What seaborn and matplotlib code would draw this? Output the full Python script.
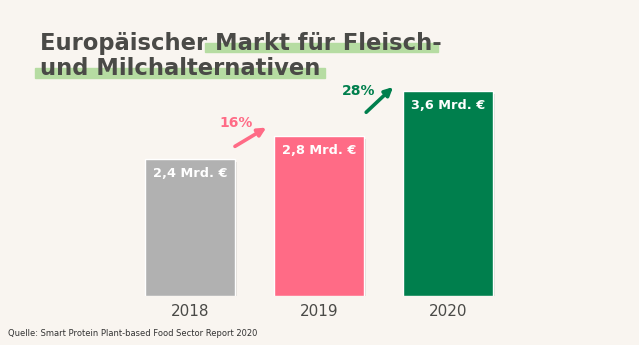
import matplotlib
matplotlib.use('Agg')
import matplotlib.pyplot as plt
import matplotlib.patheffects as pe
from matplotlib.patches import Rectangle
import seaborn as sns
import pandas as pd

# ----- Data -----
years = ['2018', '2019', '2020']
values = [2.4, 2.8, 3.6]
value_labels = ['2,4 Mrd. €', '2,8 Mrd. €', '3,6 Mrd. €']
growth = ['16%', '28%']
colors = ['#b1b1b1', '#ff6b86', '#007f4d']

bg = '#f9f5f0'
dark = '#4a4a47'

df = pd.DataFrame({'year': years, 'value': values})

sns.set_theme(style='white')
plt.rcParams['font.family'] = ['DejaVu Sans']

fig = plt.figure(figsize=(6.39, 3.45), dpi=100, facecolor=bg)
ax = fig.add_axes([0, 1 - 296/345, 1, 256/345])
ax.set_facecolor('none')

sns.barplot(data=df, x='year', y='value', hue='year', palette=colors,
            width=0.69, legend=False, ax=ax, saturation=1)
for p in ax.patches:
    p.set_path_effects([pe.SimplePatchShadow(offset=(1.5, -2), shadow_rgbFace='#000000', alpha=0.1),
                        pe.Normal()])

ax.set_xlim(-190/129, (639-190)/129)
ax.set_ylim(0, 256/57)
ax.axis('off')

# value labels inside bars
for i, (v, lab) in enumerate(zip(values, value_labels)):
    ax.text(i, v - 0.25, lab, ha='center', va='center', color='white',
            fontsize=9.3, fontweight='bold')
    ax.text(i, -0.28, years[i], ha='center', va='center', color=dark, fontsize=11)

# growth arrows
ax.annotate('', xy=(0.61, 2.98), xytext=(0.33, 2.6),
            arrowprops=dict(arrowstyle='-|>', color=colors[1], lw=2.6, mutation_scale=12))
ax.text(0.36, 3.04, growth[0], ha='center', va='center', color=colors[1],
        fontsize=10, fontweight='bold')
ax.annotate('', xy=(1.59, 3.7), xytext=(1.35, 3.19),
            arrowprops=dict(arrowstyle='-|>', color=colors[2], lw=2.6, mutation_scale=12))
ax.text(1.31, 3.6, growth[1], ha='center', va='center', color=colors[2],
        fontsize=10, fontweight='bold')

# title with green highlight
W, H = 639, 345
hl = '#b6dca2'
fig.patches.append(Rectangle((205/W, 1 - 52/H), 233/W, 9/H, transform=fig.transFigure,
                             color=hl, zorder=0))
fig.patches.append(Rectangle((35/W, 1 - 78/H), 290/W, 10/H, transform=fig.transFigure,
                             color=hl, zorder=0))
fig.text(40/W, 1 - 50/H, 'Europäischer Markt für Fleisch-', color=dark,
         fontsize=16.3, fontweight='bold', va='baseline', ha='left')
fig.text(40/W, 1 - 75/H, 'und Milchalternativen', color=dark,
         fontsize=16.3, fontweight='bold', va='baseline', ha='left')

fig.text(8/W, 1 - 334/H, 'Quelle: Smart Protein Plant-based Food Sector Report 2020',
         color='#333333', fontsize=6, va='center', ha='left')

fig.savefig('out.png', dpi=100, facecolor=bg)
